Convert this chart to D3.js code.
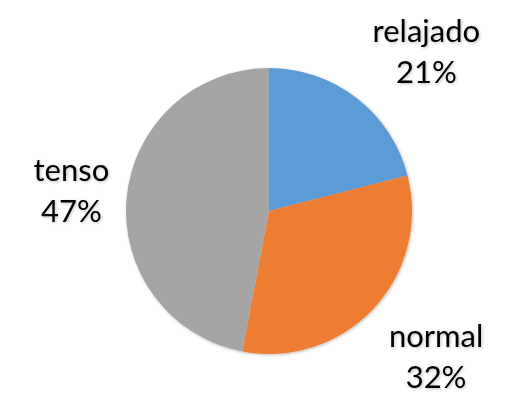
<!DOCTYPE html>
<html>
<head>
<meta charset="utf-8">
<script src="https://cdn.jsdelivr.net/npm/d3@7"></script>
<style>
  body { margin: 0; background: #fff; }
  svg { display: block; }
</style>
</head>
<body>
<svg></svg>
<script>
// categorias y valores
var categorias = ['relajado', 'normal', 'tenso'];
var valores = [21, 32, 47];
var colores = ['#5B9BD5', '#ED7D31', '#A5A5A5'];

var width = 508, height = 408;
var cx = 269, cy = 211, radio = 143;

var svg = d3.select('svg')
  .attr('width', width)
  .attr('height', height);

// sombra suave
var defs = svg.append('defs');
var f = defs.append('filter').attr('id', 'sombra')
  .attr('x', '-20%').attr('y', '-20%').attr('width', '140%').attr('height', '140%');
f.append('feDropShadow')
  .attr('dx', 1).attr('dy', 1).attr('stdDeviation', 1.5)
  .attr('flood-color', '#000').attr('flood-opacity', 0.25);

var datos = categorias.map(function(c, i) { return {cat: c, val: valores[i], color: colores[i]}; });

var pie = d3.pie().sort(null).value(function(d) { return d.val; });
var arc = d3.arc().innerRadius(0).outerRadius(radio);

var g = svg.append('g')
  .attr('transform', 'translate(' + cx + ',' + cy + ')')
  .attr('filter', 'url(#sombra)');

g.selectAll('path')
  .data(pie(datos))
  .enter().append('path')
  .attr('d', arc)
  .attr('fill', function(d) { return d.data.color; });

// etiquetas fuera del pastel
var total = d3.sum(valores);
var arcoEtiqueta = d3.arc().innerRadius(radio * 1.43).outerRadius(radio * 1.43);
var ajustes = {relajado: [32, -4], normal: [18, -1], tenso: [6, -8]};

var etiquetas = svg.append('g')
  .attr('transform', 'translate(' + cx + ',' + cy + ')')
  .selectAll('text')
  .data(pie(datos))
  .enter().append('text')
  .attr('text-anchor', 'middle')
  .attr('font-family', 'Lato, "Open Sans", sans-serif')
  .attr('font-size', 31)
  .attr('fill', '#000')
  .attr('filter', 'url(#sombra)')
  .attr('transform', function(d) {
    var p = arcoEtiqueta.centroid(d);
    var a = ajustes[d.data.cat];
    return 'translate(' + (p[0] + a[0]) + ',' + (p[1] + a[1]) + ')';
  });

etiquetas.append('tspan')
  .attr('x', 0).attr('y', -3)
  .text(function(d) { return d.data.cat; });
etiquetas.append('tspan')
  .attr('x', 0).attr('y', 38)
  .text(function(d) { return Math.round(d.data.val / total * 100) + '%'; });
</script>
</body>
</html>
